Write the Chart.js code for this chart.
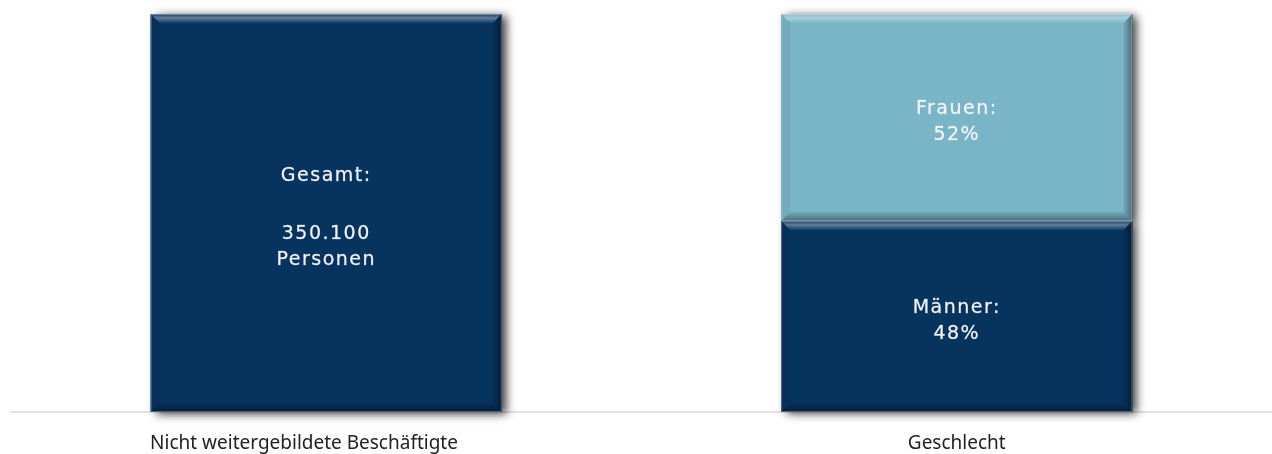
<!DOCTYPE html>
<html>
<head>
<meta charset="utf-8">
<script src="https://cdn.jsdelivr.net/npm/chart.js@4/dist/chart.umd.min.js"></script>
<style>
  html, body { margin: 0; padding: 0; background: #fff; }
  #wrap { width: 1272px; height: 454px; }
</style>
</head>
<body>
<div id="wrap"><canvas id="chart" width="1272" height="454"></canvas></div>
<script>
const categories = ['Nicht weitergebildete Beschäftigte', 'Geschlecht'];
const gesamt = [100, null];
const maenner = [null, 48];
const frauen = [null, 52];
const gesamtLabel = ['Gesamt:', '', '350.100', 'Personen'];
const maennerLabel = ['Männer:', '48%'];
const frauenLabel = ['Frauen:', '52%'];

const DARK = '#07335f';
const LIGHT = '#7ab4c7';

// soft drop shadow behind every bar
const shadowPlugin = {
  id: 'barShadow',
  beforeDatasetsDraw(chart) {
    const ctx = chart.ctx;
    ctx.save();
    chart.data.datasets.forEach((ds, i) => {
      chart.getDatasetMeta(i).data.forEach((bar, j) => {
        if (ds.data[j] == null) return;
        const p = bar.getProps(['x', 'y', 'base', 'width'], true);
        ctx.shadowColor = 'rgba(0,0,0,0.75)';
        ctx.shadowBlur = 9;
        ctx.shadowOffsetX = 5;
        ctx.shadowOffsetY = 2;
        ctx.fillStyle = '#000';
        ctx.fillRect(p.x - p.width / 2, p.y, p.width, p.base - p.y);
      });
    });
    ctx.restore();
  }
};

// bevelled edges and centred labels
const bevelPlugin = {
  id: 'bevel',
  afterDatasetsDraw(chart) {
    const ctx = chart.ctx;
    const b = 9;
    chart.data.datasets.forEach((ds, i) => {
      chart.getDatasetMeta(i).data.forEach((bar, j) => {
        if (ds.data[j] == null) return;
        const p = bar.getProps(['x', 'y', 'base', 'width'], true);
        const l = p.x - p.width / 2, r = p.x + p.width / 2, t = p.y, bt = p.base;
        ctx.save();
        const poly = (pts, style) => {
          ctx.beginPath();
          ctx.moveTo(pts[0][0], pts[0][1]);
          pts.slice(1).forEach(q => ctx.lineTo(q[0], q[1]));
          ctx.closePath();
          ctx.fillStyle = style;
          ctx.fill();
        };
        const gTop = ctx.createLinearGradient(0, t, 0, t + b);
        gTop.addColorStop(0, 'rgba(255,255,255,0.08)');
        gTop.addColorStop(0.45, 'rgba(255,255,255,0.36)');
        gTop.addColorStop(1, 'rgba(255,255,255,0.04)');
        poly([[l, t], [r, t], [r - b, t + b], [l + b, t + b]], gTop);
        const gR = ctx.createLinearGradient(r - b, 0, r, 0);
        gR.addColorStop(0, 'rgba(0,0,0,0.05)');
        gR.addColorStop(1, 'rgba(0,0,0,0.4)');
        poly([[r, t], [r, bt], [r - b, bt - b], [r - b, t + b]], gR);
        const gB = ctx.createLinearGradient(0, bt - b, 0, bt);
        gB.addColorStop(0, 'rgba(0,0,0,0.05)');
        gB.addColorStop(1, 'rgba(0,0,0,0.4)');
        poly([[l, bt], [r, bt], [r - b, bt - b], [l + b, bt - b]], gB);
        poly([[l, t], [l + b, t + b], [l + b, bt - b], [l, bt]], 'rgba(0,0,0,0.05)');
        ctx.strokeStyle = 'rgba(255,255,255,0.3)';
        ctx.lineWidth = 1;
        ctx.strokeRect(l + 0.5, t + 0.5, p.width - 1, bt - t - 1);

        // label lines; an empty line leaves a slightly taller gap
        const lines = ds.valueLines;
        const steps = lines.map((s, k) => (k === 0 ? 0 : (s === '' || lines[k - 1] === '' ? 29 : 26)));
        const span = steps.reduce((a, c) => a + c, 0);
        ctx.fillStyle = '#f4f6f8';
        ctx.strokeStyle = 'rgba(244,246,248,0.45)';
        ctx.lineWidth = 0.5;
        ctx.font = '19px "DejaVu Sans"';
        ctx.letterSpacing = '1.5px';
        ctx.textAlign = 'center';
        ctx.textBaseline = 'middle';
        let y = (t + bt) / 2 + 5 - span / 2;
        lines.forEach((s, k) => {
          y += steps[k];
          if (s) {
            ctx.fillText(s, p.x, y);
            ctx.strokeText(s, p.x, y);
          }
        });
        ctx.restore();
      });
    });
  }
};

new Chart(document.getElementById('chart'), {
  type: 'bar',
  data: {
    labels: categories,
    datasets: [
      { data: gesamt, backgroundColor: DARK, valueLines: gesamtLabel },
      { data: maenner, backgroundColor: DARK, valueLines: maennerLabel },
      { data: frauen, backgroundColor: LIGHT, valueLines: frauenLabel }
    ]
  },
  options: {
    responsive: false,
    animation: false,
    layout: { padding: { left: 11, top: 14, right: 0, bottom: 0 } },
    datasets: { bar: { categoryPercentage: 1, barPercentage: 0.557, skipNull: true } },
    plugins: { legend: { display: false }, tooltip: { enabled: false } },
    scales: {
      x: {
        stacked: true,
        grid: { display: false, drawTicks: false },
        border: { display: true, color: '#e2e2e2', width: 2 },
        ticks: {
          color: '#222',
          padding: 20,
          font: { family: '"Noto Sans"', size: 19 },
          // first label sits a little left of its bar's centre
          callback: (v, i) => (i === 0 ? categories[i] + '\u00a0'.repeat(9) : categories[i])
        },
        afterFit(scale) { scale.height = 42; }
      },
      y: { stacked: true, display: false, min: 0, max: 100 }
    }
  },
  plugins: [shadowPlugin, bevelPlugin]
});
</script>
</body>
</html>
